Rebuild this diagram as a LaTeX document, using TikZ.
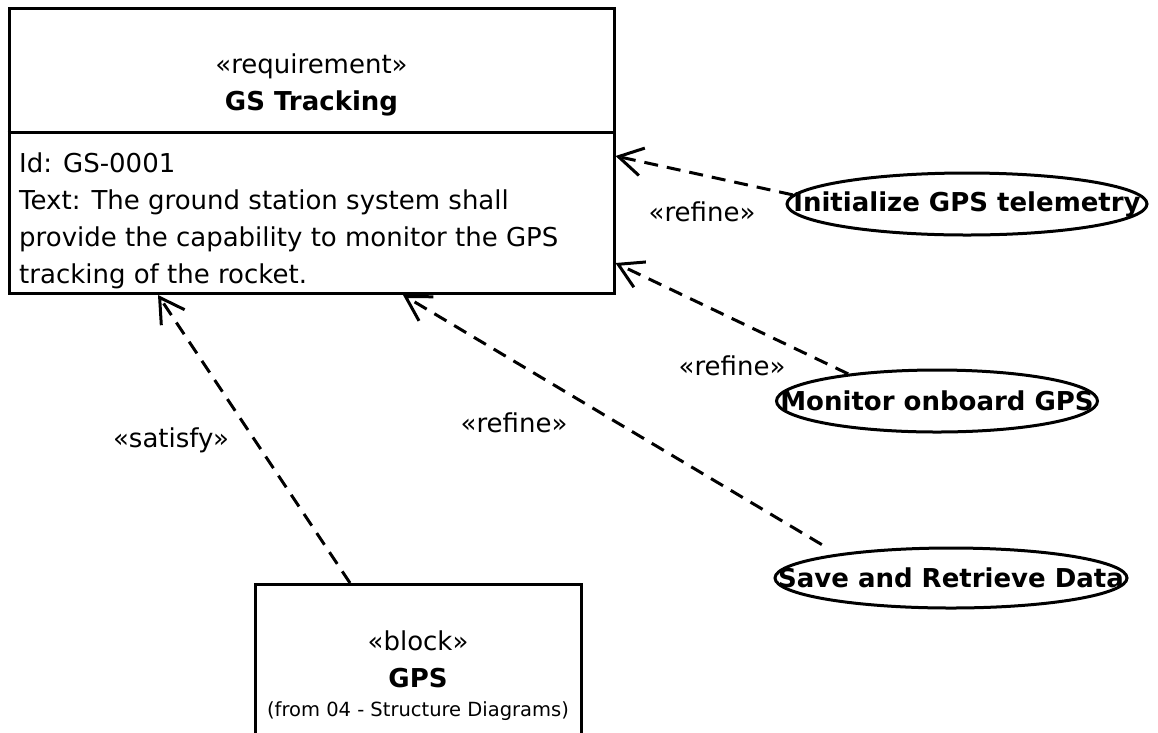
\documentclass[tikz,border=0pt]{standalone}
\usepackage{fontspec}
\setmainfont{DejaVu Sans}
\usetikzlibrary{arrows.meta,shapes.geometric}

\tikzset{
 box/.style={draw, line width=3pt, inner sep=0pt},
 uc/.style={ellipse, draw, line width=3pt, inner sep=0pt, minimum height=62pt,
  font=\fontsize{26}{30}\selectfont\bfseries},
 txt/.style={inner sep=0pt, font=\fontsize{26}{37}\selectfont},
 lbl/.style={inner sep=0pt, font=\fontsize{26}{30}\selectfont},
 dep/.style={line width=3pt, dash pattern=on 14pt off 9pt,
  -{Straight Barb[length=24pt,width=28pt]}},
}

\begin{document}
\begin{tikzpicture}[x=1pt,y=-1pt]
\useasboundingbox (0,0) rectangle (1158,732);
\clip (0,0) rectangle (1158,732);

%requirement
\node[box, minimum width=605, minimum height=285] (req) at (311.5,151) {};
\draw[line width=3pt] (req.west |- 0,132) -- (req.east |- 0,132);
\node[txt, align=center] (reqname) at (311.5,85) {«requirement»\\\textbf{GS Tracking}};
\node[txt, align=left, anchor=north west] (reqtext) at (19,153)
 {Id: GS-0001\\Text: The ground station system shall\\provide the capability to monitor the GPS\\tracking of the rocket.};

%block
\node[box, minimum width=326, minimum height=200, anchor=north] (gps) at (418,583) {};
\node[txt, align=center] (gpsname) at (418,659) {«block»\\\textbf{GPS}};
\node[inner sep=0pt, font=\fontsize{19.5}{24}\selectfont] (gpsfrom) at (418,711) {(from 04 - Structure Diagrams)};

%use cases
\node[uc, minimum width=360] (init) at (967,204) {\makebox[0pt]{Initialize GPS telemetry}};
\node[uc, minimum width=321] (mon) at (937,401) {\makebox[0pt]{Monitor onboard GPS}};
\node[uc, minimum width=352, minimum height=60] (save) at (951,578) {\makebox[0pt]{Save and Retrieve Data}};

%connectors
\draw[dep] (init.177) -- (req.east |- 0,156);
\draw[dep] (mon.163) -- (req.east |- 0,263);
\draw[dep, shorten <=18pt] (save.168) -- (req.south -| 403,0);
\draw[dep] (gps.north -| 350,0) -- (req.south -| 158,0);

\node[lbl] (ref1) at (702,212) {«refine»};
\node[lbl] (ref2) at (732,366) {«refine»};
\node[lbl] (ref3) at (514,423) {«refine»};
\node[lbl] (sat) at (171,440) {«satisfy»};

\end{tikzpicture}
\end{document}
